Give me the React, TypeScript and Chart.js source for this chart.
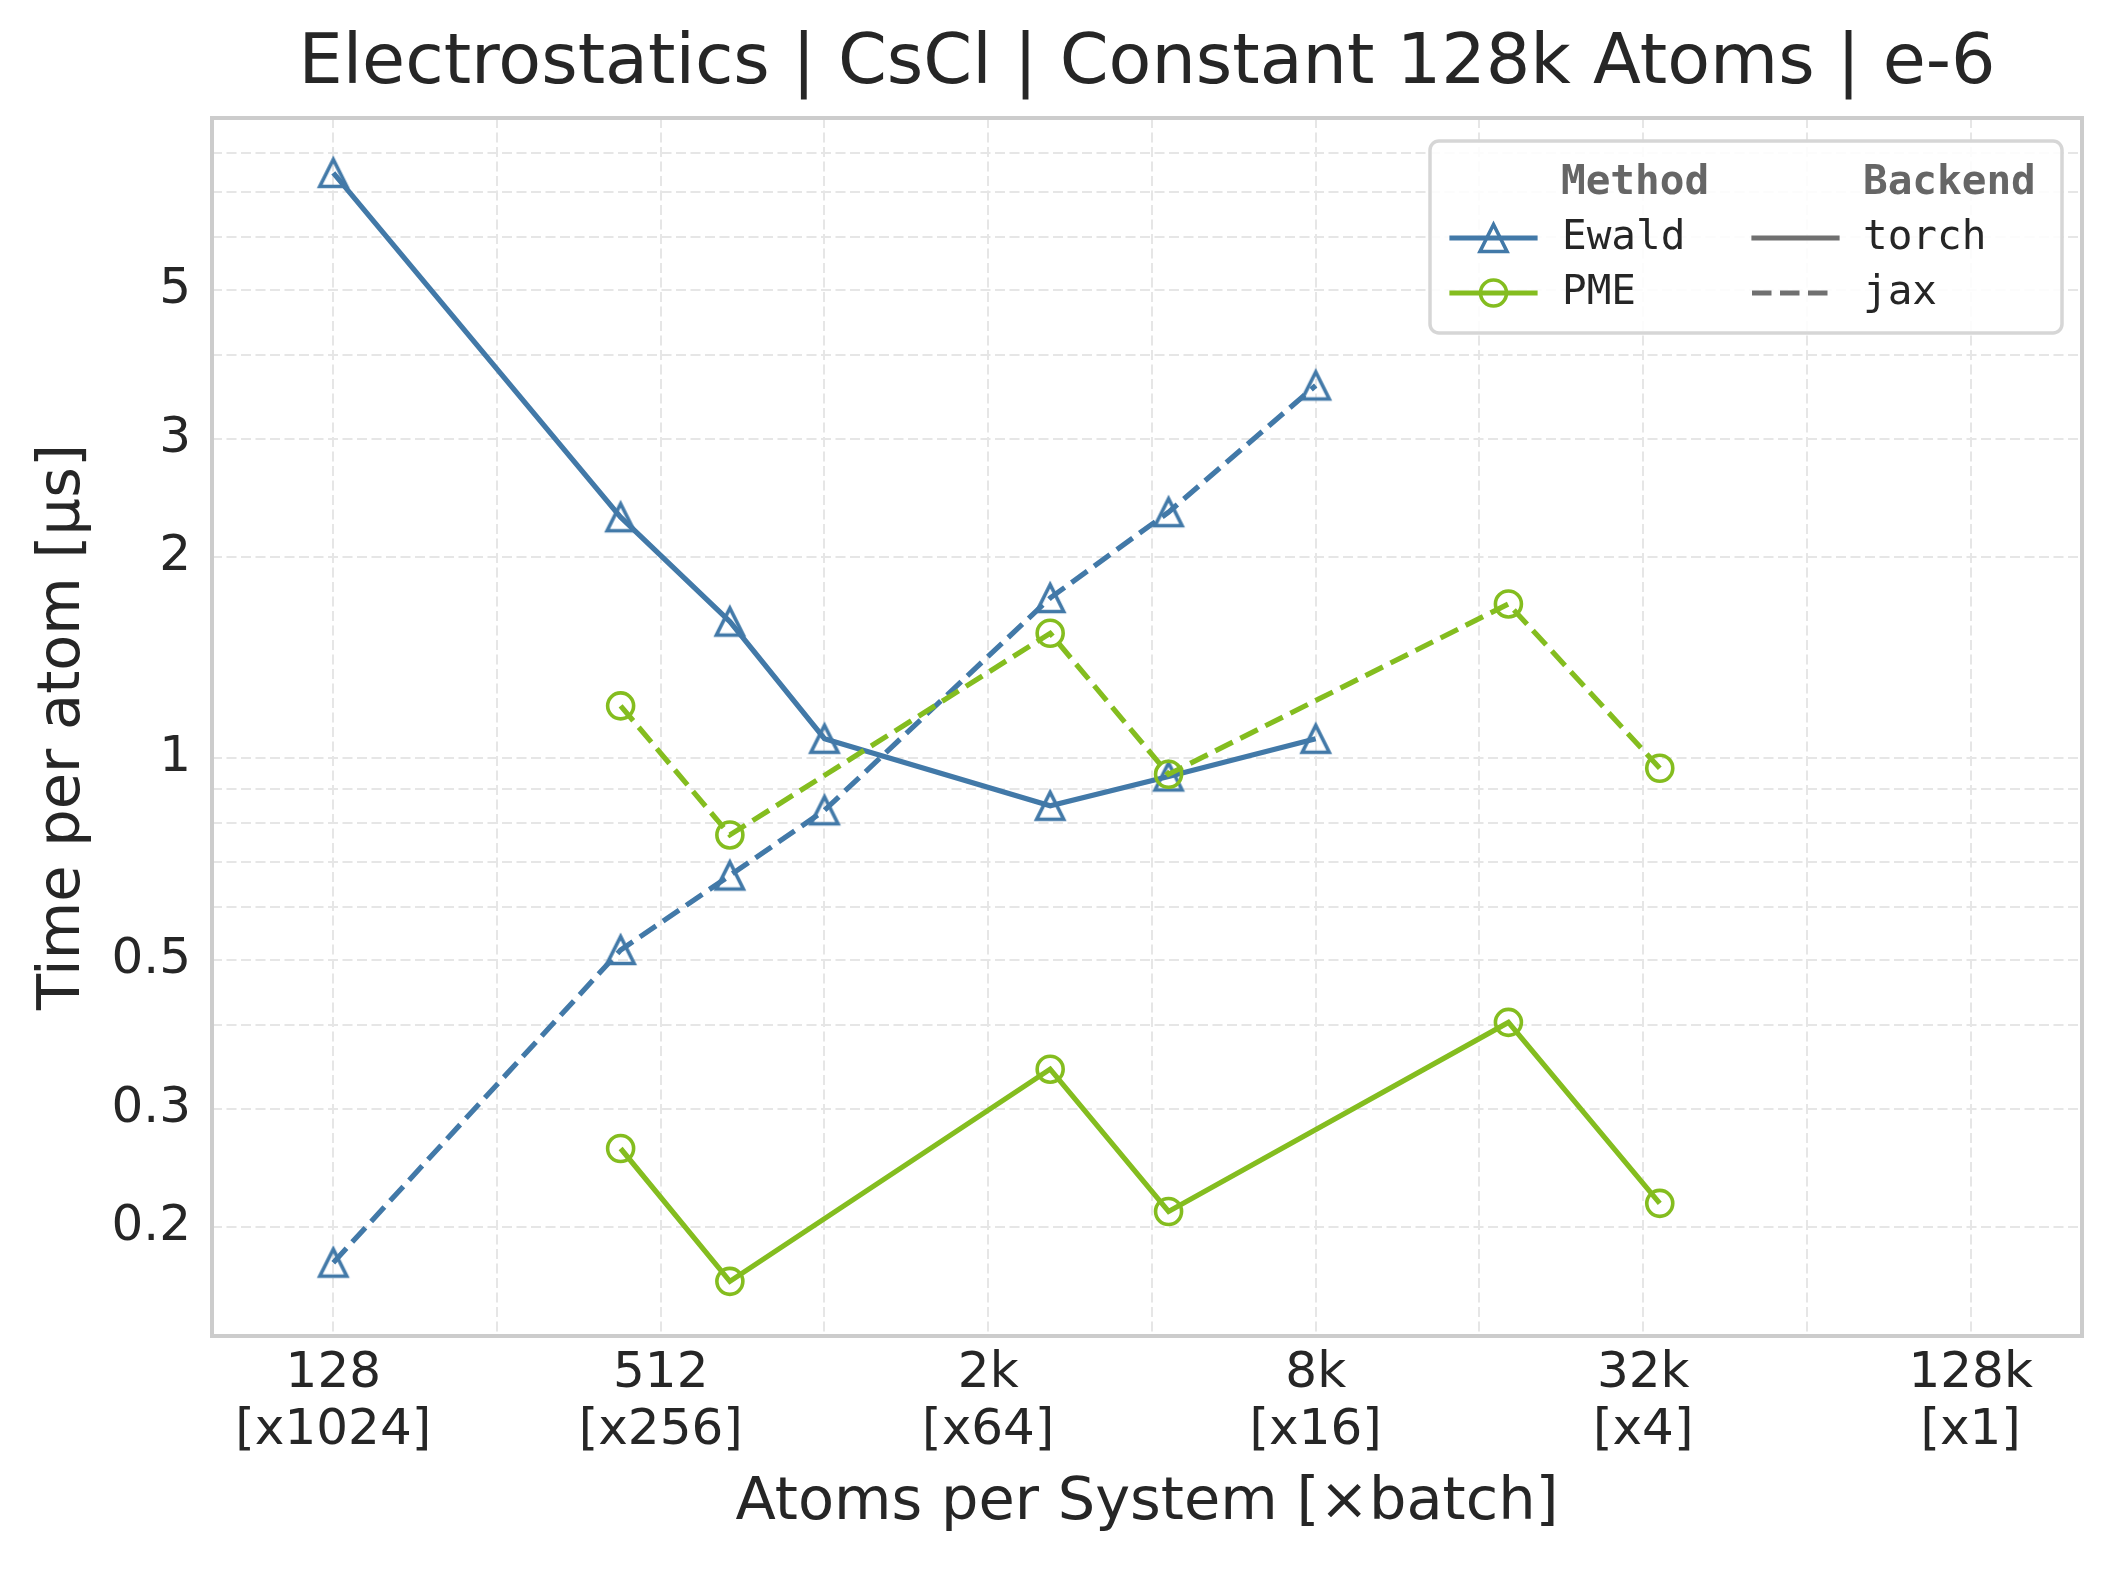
import React, { useRef, useEffect } from 'react';
import { Chart, registerables } from 'chart.js';

Chart.register(...registerables);

// atoms per system for each method
const ewaldAtoms = [128, 432, 686, 1024, 2662, 4394, 8192];
const ewaldTorch = [7.47, 2.29, 1.6, 1.07, 0.85, 0.94, 1.07];
const ewaldJax = [0.177, 0.518, 0.669, 0.837, 1.735, 2.33, 3.6];

const pmeAtoms = [432, 686, 2662, 4394, 18522, 35152];
const pmeTorch = [0.262, 0.166, 0.344, 0.211, 0.404, 0.217];
const pmeJax = [1.198, 0.769, 1.537, 0.947, 1.7, 0.967];

const xTicks = [128, 512, 2048, 8192, 32768, 131072];
const xTickLabels = ['128', '512', '2k', '8k', '32k', '128k'];
const batchLabels = ['[x1024]', '[x256]', '[x64]', '[x16]', '[x4]', '[x1]'];
const xMinorTicks = [256, 1024, 4096, 16384, 65536];

const yTicks = [0.2, 0.3, 0.5, 1, 2, 3, 5];
const yMinorTicks = [0.4, 0.6, 0.7, 0.8, 0.9, 4, 6, 7, 8, 9];

const BLUE = '#4279a8';
const GREEN = '#84bd1f';
const INK = '#262626';
const GREY = '#707070';
const LINE_W = 5.2;
const DASH = [19.5, 8.5];
const TRI_HALF = 13.5;
const CIRCLE_R = 13;

const pts = (xs: number[], ys: number[]) => xs.map((x, i) => ({ x, y: ys[i] }));

// matplotlib-style '^' marker: bbox centred on the point, hollow
function drawTriangle(g: CanvasRenderingContext2D, cx: number, cy: number, half: number, color: string) {
    g.save();
    g.strokeStyle = color;
    g.lineWidth = 3.6;
    g.lineJoin = 'miter';
    g.setLineDash([]);
    g.beginPath();
    g.moveTo(cx, cy - half);
    g.lineTo(cx - half, cy + half);
    g.lineTo(cx + half, cy + half);
    g.closePath();
    g.stroke();
    g.restore();
}

function makeTriangle(color: string) {
    const c = document.createElement('canvas');
    c.width = 48;
    c.height = 48;
    const g = c.getContext('2d');
    if (g) drawTriangle(g, 24, 24, TRI_HALF, color);
    return c;
}

const framePlugin = {
    id: 'frame',
    afterDatasetsDraw(chart: Chart) {
        const { ctx, chartArea: a } = chart;
        ctx.save();
        ctx.strokeStyle = '#cccccc';
        ctx.lineWidth = 4;
        ctx.strokeRect(a.left, a.top, a.right - a.left, a.bottom - a.top);
        ctx.restore();
    },
};

const legendPlugin = {
    id: 'methodBackendLegend',
    afterDraw(chart: Chart) {
        const { ctx, chartArea: a } = chart;
        const w = 632, h = 192;
        const x0 = a.right - 20 - w;
        const y0 = a.top + 23;
        ctx.save();
        ctx.beginPath();
        ctx.roundRect(x0, y0, w, h, 9);
        ctx.fillStyle = 'rgba(255,255,255,0.85)';
        ctx.fill();
        ctx.lineWidth = 3.5;
        ctx.strokeStyle = '#d6d6d6';
        ctx.stroke();

        const rows = [y0 + 42, y0 + 97, y0 + 152];
        ctx.textBaseline = 'middle';
        ctx.textAlign = 'left';
        ctx.font = 'bold 41px "DejaVu Sans Mono"';
        ctx.fillStyle = '#666666';
        ctx.fillText('Method', x0 + 131, rows[0]);
        ctx.fillText('Backend', x0 + 433, rows[0]);

        ctx.font = '41px "DejaVu Sans Mono"';
        ctx.fillStyle = INK;
        ctx.fillText('Ewald', x0 + 132, rows[1]);
        ctx.fillText('PME', x0 + 132, rows[2]);
        ctx.fillText('torch', x0 + 433, rows[1]);
        ctx.fillText('jax', x0 + 433, rows[2]);

        const seg = (x1: number, x2: number, y: number, color: string, dash: number[]) => {
            ctx.save();
            ctx.strokeStyle = color;
            ctx.lineWidth = LINE_W;
            ctx.setLineDash(dash);
            ctx.lineCap = dash.length ? 'butt' : 'square';
            ctx.beginPath();
            ctx.moveTo(x1, y);
            ctx.lineTo(x2, y);
            ctx.stroke();
            ctx.restore();
        };
        seg(x0 + 22, x0 + 105, rows[1], BLUE, []);
        drawTriangle(ctx, x0 + 63.5, rows[1], TRI_HALF, BLUE);
        seg(x0 + 22, x0 + 105, rows[2], GREEN, []);
        ctx.beginPath();
        ctx.arc(x0 + 63.5, rows[2], CIRCLE_R, 0, Math.PI * 2);
        ctx.lineWidth = 3.6;
        ctx.strokeStyle = GREEN;
        ctx.stroke();
        seg(x0 + 324, x0 + 407, rows[1], GREY, []);
        seg(x0 + 322, x0 + 405, rows[2], GREY, DASH);
        ctx.restore();
    },
};

const App: React.FC = () => {
    const chartRef = useRef<HTMLCanvasElement>(null);
    const chartInstanceRef = useRef<Chart | null>(null);

    useEffect(() => {
        document.body.style.margin = '0';
        if (!chartRef.current) return;
        const ctx = chartRef.current.getContext('2d');
        if (!ctx) return;
        if (chartInstanceRef.current) chartInstanceRef.current.destroy();

        const blueTri = makeTriangle(BLUE);
        const tickFont = { family: 'DejaVu Sans', size: 50, lineHeight: 1.14 };
        const gridStyle = { color: '#e6e6e6', lineWidth: 2, drawTicks: false };

        const lineSet = (label: string, data: { x: number; y: number }[], color: string, dashed: boolean, marker: any, order: number) => ({
            label,
            data,
            order,
            borderColor: color,
            borderWidth: LINE_W,
            borderDash: dashed ? DASH : [],
            tension: 0,
            fill: false,
            pointStyle: marker,
            pointRadius: CIRCLE_R,
            pointHoverRadius: CIRCLE_R,
            pointBorderWidth: 3.6,
            pointBorderColor: color,
            pointBackgroundColor: 'rgba(0,0,0,0)',
        });

        chartInstanceRef.current = new Chart(ctx, {
            type: 'line',
            data: {
                datasets: [
                    lineSet('PME jax', pts(pmeAtoms, pmeJax), GREEN, true, 'circle', 0),
                    lineSet('PME torch', pts(pmeAtoms, pmeTorch), GREEN, false, 'circle', 1),
                    lineSet('Ewald jax', pts(ewaldAtoms, ewaldJax), BLUE, true, blueTri, 2),
                    lineSet('Ewald torch', pts(ewaldAtoms, ewaldTorch), BLUE, false, blueTri, 3),
                ] as any,
            },
            options: {
                animation: false,
                responsive: false,
                devicePixelRatio: 1,
                layout: { padding: { top: 0, right: 36, bottom: 0, left: 0 } },
                plugins: {
                    legend: { display: false },
                    tooltip: { enabled: false },
                    title: {
                        display: true,
                        text: 'Electrostatics | CsCl | Constant 128k Atoms | e-6',
                        color: INK,
                        fullSize: false,
                        font: { family: 'DejaVu Sans', size: 70, weight: 'normal', lineHeight: 1.2 },
                        padding: { top: 23, bottom: 11 },
                    },
                },
                scales: {
                    x: {
                        type: 'logarithmic',
                        min: 76.6,
                        max: 210000,
                        afterBuildTicks: (scale: any) => {
                            scale.ticks = [...xTicks, ...xMinorTicks].sort((a, b) => a - b).map((value) => ({ value }));
                        },
                        afterFit: (scale: any) => {
                            scale.height = 236;
                        },
                        grid: gridStyle,
                        border: { display: false, dash: [10, 4.5] },
                        ticks: {
                            autoSkip: false,
                            maxRotation: 0,
                            minRotation: 0,
                            padding: 9.5,
                            color: INK,
                            font: tickFont,
                            callback: (value: any) => {
                                const i = xTicks.indexOf(Number(value));
                                return i >= 0 ? [xTickLabels[i], batchLabels[i]] : '';
                            },
                        },
                        title: {
                            display: true,
                            text: 'Atoms per System [×batch]',
                            color: INK,
                            font: { family: 'DejaVu Sans', size: 59, lineHeight: 1.2 },
                            padding: { top: 0, bottom: 33 },
                        },
                    },
                    y: {
                        type: 'logarithmic',
                        min: 0.1376,
                        max: 9.02,
                        afterBuildTicks: (scale: any) => {
                            scale.ticks = [...yTicks, ...yMinorTicks].sort((a, b) => a - b).map((value) => ({ value }));
                        },
                        afterFit: (scale: any) => {
                            scale.width = 212;
                        },
                        grid: gridStyle,
                        border: { display: false, dash: [10, 4.5] },
                        ticks: {
                            autoSkip: false,
                            padding: 21,
                            color: INK,
                            font: { family: 'DejaVu Sans', size: 50 },
                            callback: (value: any) => (yTicks.includes(Number(value)) ? String(value) : ''),
                        },
                        title: {
                            display: true,
                            text: 'Time per atom [µs]',
                            color: INK,
                            font: { family: 'DejaVu Sans', size: 59, lineHeight: 1.2 },
                            padding: { top: 28, bottom: 0 },
                        },
                    },
                },
            } as any,
            plugins: [framePlugin, legendPlugin],
        });

        return () => {
            if (chartInstanceRef.current) {
                chartInstanceRef.current.destroy();
                chartInstanceRef.current = null;
            }
        };
    }, []);

    return (
        <div style={{ width: '2118px', height: '1572px', background: '#ffffff' }}>
            <canvas ref={chartRef} width={2118} height={1572} style={{ width: '2118px', height: '1572px' }} />
        </div>
    );
};

export default App;
